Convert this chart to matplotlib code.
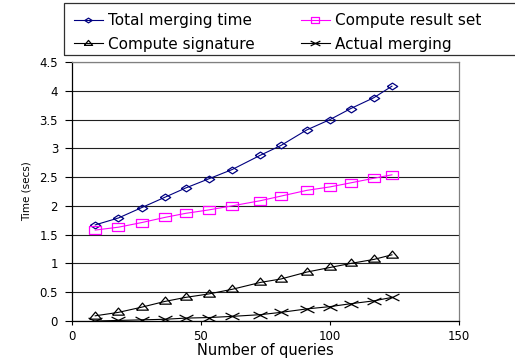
import matplotlib
matplotlib.use('Agg')
import matplotlib.pyplot as plt
from matplotlib.path import Path
from matplotlib.patches import Rectangle

plt.rcParams['font.family'] = ['DejaVu Sans']

# number of queries per run and the time spent on each phase (secs)
queries = [9, 18, 27, 36, 44, 53, 62, 73, 81, 91, 100, 108, 117, 124]
total_merging = [1.67, 1.79, 1.97, 2.15, 2.31, 2.47, 2.63, 2.88, 3.05, 3.32, 3.50, 3.69, 3.88, 4.08]
result_set = [1.58, 1.63, 1.71, 1.80, 1.87, 1.93, 2.00, 2.09, 2.17, 2.27, 2.33, 2.40, 2.48, 2.54]
signature = [0.09, 0.15, 0.24, 0.34, 0.41, 0.47, 0.55, 0.67, 0.73, 0.85, 0.93, 1.00, 1.07, 1.15]
actual_merging = [0.00, 0.01, 0.02, 0.03, 0.05, 0.06, 0.08, 0.11, 0.15, 0.21, 0.25, 0.30, 0.35, 0.41]

series_labels = ['Total merging time', 'Compute result set', 'Compute signature', 'Actual merging']
x_ticks = [0, 50, 100, 150]
y_ticks = [0, 0.5, 1, 1.5, 2, 2.5, 3, 3.5, 4, 4.5]

# wide, flat marker shapes
wide_diamond = Path([(-1, 0), (0, 0.65), (1, 0), (0, -0.65), (-1, 0)])
wide_square = Path([(-1, -0.62), (1, -0.62), (1, 0.62), (-1, 0.62), (-1, -0.62)])
wide_triangle = Path([(-1, -0.45), (1, -0.45), (0, 0.75), (-1, -0.45)])
wide_cross = Path([(-1, -0.5), (1, 0.5), (-1, 0.5), (1, -0.5)],
                  [Path.MOVETO, Path.LINETO, Path.MOVETO, Path.LINETO])

W, H = 515, 360
fig = plt.figure(figsize=(W / 100, H / 100), dpi=100)
ax = fig.add_axes([72 / W, 1 - 321 / H, (459 - 72) / W, (321 - 62) / H])

style = dict(lw=0.8, mfc='none', mew=0.9)
h_total, = ax.plot(queries, total_merging, color='#000080', marker=wide_diamond, ms=7.5,
                   label=series_labels[0], **style)
h_result, = ax.plot(queries, result_set, color='#FF00FF', marker=wide_square, ms=8.5,
                    label=series_labels[1], **style)
h_sig, = ax.plot(queries, signature, color='black', marker=wide_triangle, ms=8.5,
                 label=series_labels[2], **style)
h_actual, = ax.plot(queries, actual_merging, color='black', marker=wide_cross, ms=10,
                    label=series_labels[3], **style)

ax.set_xlim(0, 150)
ax.set_ylim(0, 4.5)
ax.set_xticks(x_ticks)
ax.set_yticks(y_ticks)
ax.set_yticklabels([f'{v:g}' for v in y_ticks])

ax.yaxis.grid(True, color='#202020', lw=0.8)
ax.set_axisbelow(True)
ax.spines['left'].set_color('black')
ax.spines['bottom'].set_color('black')
ax.spines['top'].set_color('#808080')
ax.spines['right'].set_color('#808080')
for s in ax.spines.values():
    s.set_linewidth(0.9)

ax.tick_params(axis='y', direction='out', length=5, width=0.8, pad=5, labelsize=8.5)
ax.tick_params(axis='x', direction='out', length=3, width=0.8, pad=3.5, labelsize=8.5)

ax.set_xlabel('Number of queries', fontsize=10.5)
ax.xaxis.set_label_coords(0.5, -22 / 259)
ax.set_ylabel('Time (secs)', fontsize=7.5, labelpad=6)

# legend is filled column by column, so order the handles to read row by row
handles = [h_total, h_sig, h_result, h_actual]
leg = fig.legend(handles=handles, labels=[h.get_label() for h in handles],
                 loc='upper left', bbox_to_anchor=(64 / W, 1 - 3 / H), ncol=2,
                 fontsize=11, frameon=False,
                 handlelength=1.9, handletextpad=0.35, columnspacing=3.0,
                 labelspacing=0.58, borderpad=0.65, borderaxespad=0, markerscale=0.7)

# legend box runs off the right edge of the figure
fig.add_artist(Rectangle((64 / W, 1 - 55 / H), 470 / W, 52 / H, transform=fig.transFigure,
                         fill=False, edgecolor='#303030', lw=0.9))

fig.savefig('out.png', dpi=100)
